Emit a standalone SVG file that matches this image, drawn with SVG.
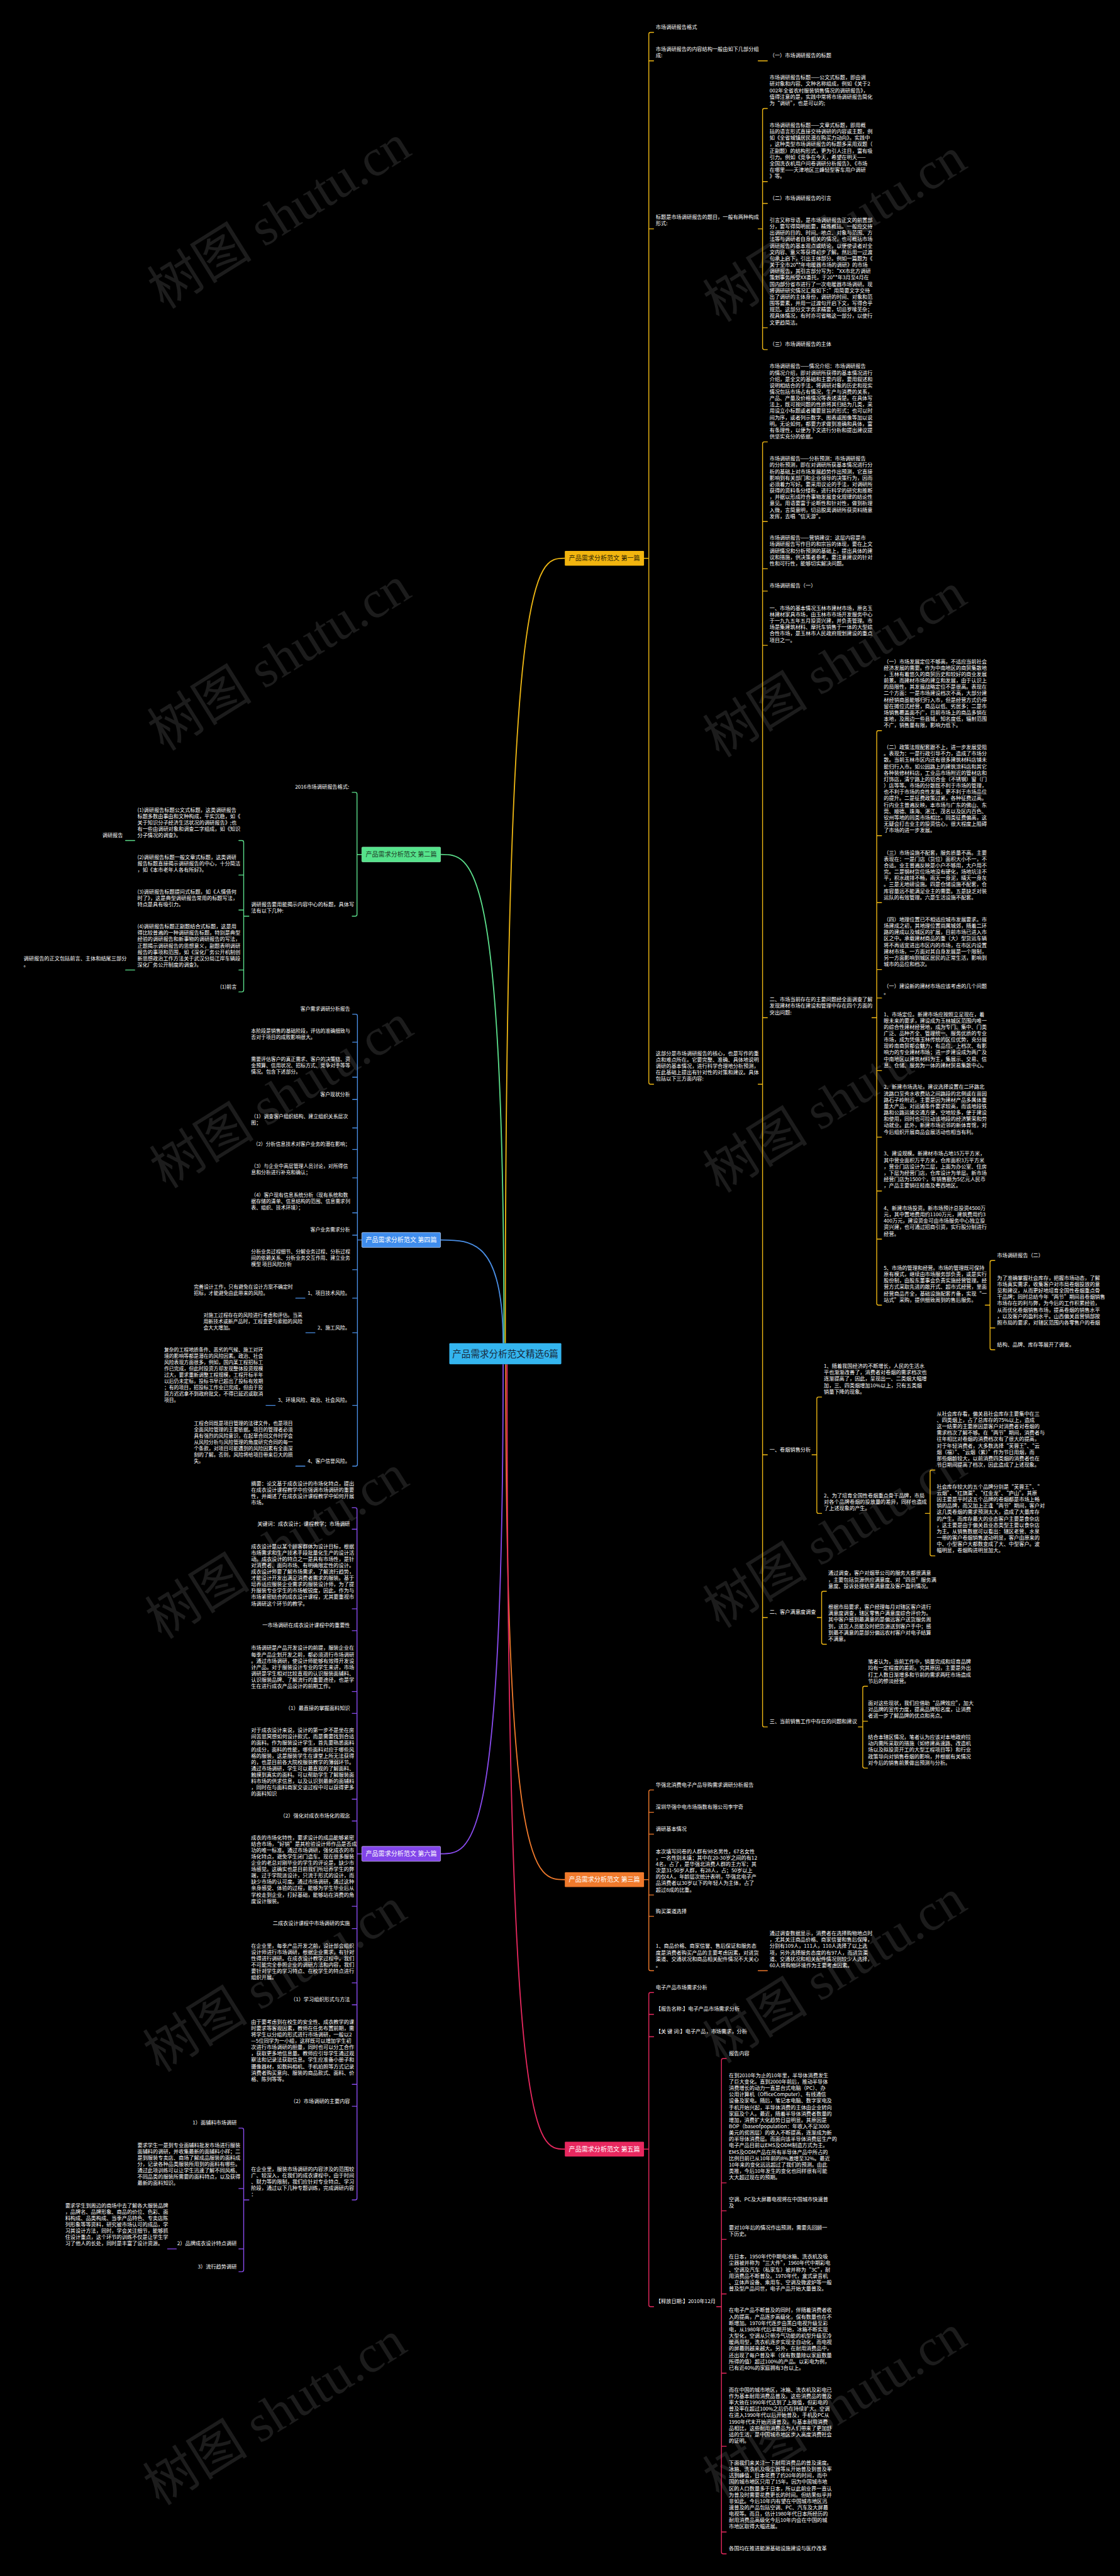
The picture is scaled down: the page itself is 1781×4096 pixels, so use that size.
<svg xmlns="http://www.w3.org/2000/svg" width="1781" height="4096" viewBox="0 0 1781 4096">
<style>
.t{font-family:"Noto Sans CJK SC","Noto Sans",sans-serif;font-size:11.8px;fill:#ffffff}
.t4{font-family:"Noto Sans CJK SC","Noto Sans",sans-serif;font-size:11.35px;fill:#ffffff}
.e{text-anchor:end}
.nt{font-family:"Noto Sans CJK SC","Noto Sans",sans-serif;font-size:14.5px;text-anchor:middle}
.wm{font-family:"Liberation Serif","Noto Sans CJK SC",serif;font-size:120px;fill:#1c1c1c;text-anchor:middle}
.l{fill:none;stroke-width:2;stroke-linecap:round}
.rc{fill:none;stroke-width:2.6}
.y{stroke:#efb814}.g{stroke:#5ce08c}.o{stroke:#f07a2c}.b{stroke:#4a8fe6}.p{stroke:#e8285f}.v{stroke:#8a4cf0}
</style>
<rect x="0" y="0" width="1781" height="4096" fill="#000000"/>
<g transform="scale(0.6957)">
<g id="watermarks">
<text class="wm" transform="translate(1930,560) rotate(-32)">树图 shutu.cn</text>
<text class="wm" transform="translate(1930,1555) rotate(-32)">树图 shutu.cn</text>
<text class="wm" transform="translate(1930,2550) rotate(-32)">树图 shutu.cn</text>
<text class="wm" transform="translate(1930,3545) rotate(-32)">树图 shutu.cn</text>
<text class="wm" transform="translate(1930,4540) rotate(-32)">树图 shutu.cn</text>
<text class="wm" transform="translate(1930,5535) rotate(-32)">树图 shutu.cn</text>
<text class="wm" transform="translate(660,530) rotate(-32)">树图 shutu.cn</text>
<text class="wm" transform="translate(660,1540) rotate(-32)">树图 shutu.cn</text>
<text class="wm" transform="translate(665,2540) rotate(-32)">树图 shutu.cn</text>
<text class="wm" transform="translate(655,3570) rotate(-32)">树图 shutu.cn</text>
<text class="wm" transform="translate(650,4560) rotate(-32)">树图 shutu.cn</text>
<text class="wm" transform="translate(650,5550) rotate(-32)">树图 shutu.cn</text>
</g>
<g id="connectors">
<path class="rc y" d="M1155,3070 C1155,1276 1223,1276 1291,1276"/>
<path class="rc g" d="M1152,3070 C1152,1953 1080,1953 1007,1953"/>
<path class="rc b" d="M1150,3070 C1150,2834 1078,2834 1007,2834"/>
<path class="rc o" d="M1156,3118 C1156,4296 1223,4296 1291,4296"/>
<path class="rc p" d="M1159,3118 C1159,4912 1225,4912 1291,4912"/>
<path class="rc v" d="M1150,3118 C1150,4237 1078,4237 1007,4237"/>
<path class="l y" d="M1472,1276H1483M1494,74H1487Q1483,74 1483,78V2474Q1483,2478 1487,2478H1494M1483,139H1494M1483,523H1494"/>
<path class="l y" d="M1733,139H1754"/>
<path class="l y" d="M1733,523H1743M1754,248H1747Q1743,248 1743,252V795Q1743,799 1747,799H1754M1743,415H1754M1743,465H1754M1743,749H1754"/>
<path class="l y" d="M1733,2478H1743M1754,1010H1747Q1743,1010 1743,1014V3943Q1743,3947 1747,3947H1754M1743,1192H1754M1743,1300H1754M1743,1351H1754M1743,1475H1754M1743,2326H1754M1743,3325H1754M1743,3697H1754"/>
<path class="l y" d="M1993,2326H2004M2015,1670H2008Q2004,1670 2004,1674V2979Q2004,2983 2008,2983H2015M2004,1910H2015M2004,2063H2015M2004,2216H2015M2004,2281H2015M2004,2447H2015M2004,2599H2015M2004,2722H2015M2004,2832H2015"/>
<path class="l y" d="M2252,2983H2263M2274,2881H2267Q2263,2881 2263,2885V3081Q2263,3085 2267,3085H2274M2263,3035H2274"/>
<path class="l y" d="M1856,3325H1867M1878,3193H1871Q1867,3193 1867,3197V3455Q1867,3459 1871,3459H1878"/>
<path class="l y" d="M2115,3459H2126M2137,3360H2130Q2126,3360 2126,3364V3552Q2126,3556 2130,3556H2137"/>
<path class="l y" d="M1868,3697H1878M1889,3637H1882Q1878,3637 1878,3641V3754Q1878,3758 1882,3758H1889"/>
<path class="l y" d="M1962,3947H1972M1983,3854H1976Q1972,3854 1972,3858V4037Q1972,4041 1976,4041H1983M1972,3934H1983"/>
<path class="l o" d="M1472,4296H1483M1494,4091H1487Q1483,4091 1483,4095V4500Q1483,4504 1487,4504H1494M1483,4142H1494M1483,4192H1494M1483,4331H1494M1483,4380H1494"/>
<path class="l o" d="M1733,4504H1754"/>
<path class="l p" d="M1472,4912H1483M1494,4554H1487Q1483,4554 1483,4558V5268Q1483,5272 1487,5272H1494M1483,4604H1494M1483,4655H1494"/>
<path class="l p" d="M1638,5272H1649M1660,4705H1653Q1649,4705 1649,4709V5833Q1649,5837 1653,5837H1660M1649,4989H1660M1649,5053H1660M1649,5118H1660M1649,5243H1660M1649,5424H1660M1649,5591H1660M1649,5787H1660"/>
<path class="l g" d="M827,1953H816M805,1811H812Q816,1811 816,1815V2090Q816,2094 812,2094H805"/>
<path class="l g" d="M569,2094H557M546,1921H553Q557,1921 557,1925V2263Q557,2267 553,2267H546M557,2000H546M557,2080H546M557,2217H546"/>
<path class="l g" d="M287,1921H308M287,2217H308"/>
<path class="l b" d="M827,2834H817M806,2318H813Q817,2318 817,2322V3347Q817,3351 813,3351H806M817,2382H806M817,2462H806M817,2513H806M817,2578H806M817,2627H806M817,2692H806M817,2772H806M817,2823H806M817,2902H806M817,2967H806M817,3046H806M817,3212H806"/>
<path class="l b" d="M676,2967H697M699,3046H720M608,3212H629M676,3351H697"/>
<path class="l v" d="M827,4237H816M805,3446H812Q816,3446 816,3450V5024Q816,5028 812,5028H805M816,3495H805M816,3677H805M816,3727H805M816,3866H805M816,3916H805M816,4112H805M816,4162H805M816,4357H805M816,4408H805M816,4532H805M816,4582H805M816,4764H805M816,4814H805"/>
<path class="l v" d="M569,5028H557M546,4864H553Q557,4864 557,4868V5188Q557,5192 553,5192H546M557,5002H546M557,5140H546"/>
<path class="l v" d="M383,5140H403"/>
</g>
<g id="root"><rect x="1027" y="3070" width="256" height="48" rx="2" fill="#34b5ef"/><text x="1155" y="3101.5" font-family="Noto Sans CJK SC,sans-serif" font-size="21" text-anchor="middle" fill="#17283a">产品需求分析范文精选6篇</text></g>
<g id="b1"><rect x="1291" y="1259" width="181" height="34" rx="2" fill="#f2b50f"/><text class="nt" x="1381.5" y="1281" fill="#2a2306">产品需求分析范文 第一篇</text></g>
<g id="b2"><rect x="827" y="1936" width="180" height="34" rx="2" fill="#55e38b" stroke="#8ff0b4" stroke-width="1"/><text class="nt" x="917" y="1958" fill="#1c3a26">产品需求分析范文 第二篇</text></g>
<g id="b3"><rect x="1291" y="4279" width="181" height="34" rx="2" fill="#f07a2c"/><text class="nt" x="1381.5" y="4301" fill="#ffffff">产品需求分析范文 第三篇</text></g>
<g id="b4"><rect x="827" y="2817" width="180" height="34" rx="2" fill="#3f8ded" stroke="#cfe2ff" stroke-width="1"/><text class="nt" x="917" y="2839" fill="#ffffff">产品需求分析范文 第四篇</text></g>
<g id="b5"><rect x="1291" y="4895" width="181" height="34" rx="2" fill="#e8285f"/><text class="nt" x="1381.5" y="4917" fill="#ffffff">产品需求分析范文 第五篇</text></g>
<g id="b6"><rect x="827" y="4220" width="180" height="34" rx="2" fill="#8245ea" stroke="#d6c4ff" stroke-width="1"/><text class="nt" x="917" y="4242" fill="#ffffff">产品需求分析范文 第六篇</text></g>

<g id="b1-1"><text class="t" x="1499" y="66">市场调研报告格式</text></g>
<g id="b1-2"><text class="t" x="1499" y="116.4">市场调研报告的内容结构一般由如下几部分组<tspan x="1499" dy="14.6">成:</tspan></text></g>
<g id="b1-2-1"><text class="t" x="1759" y="131">（一）市场调研报告的标题</text></g>
<g id="b1-3"><text class="t" x="1499" y="500.4">标题是市场调研报告的题目，一般有两种构成<tspan x="1499" dy="14.6">形式:</tspan></text></g>
<g id="b1-3-1"><text class="t" x="1759" y="181.6">市场调研报告标题——公文式标题，即由调<tspan x="1759" dy="14.6">研对象和内容、文种名称组成，例如《关于2</tspan><tspan x="1759" dy="14.6">002年全省农村服装销售情况的调研报告》，</tspan><tspan x="1759" dy="14.6">值得注意的是，实践中常将市场调研报告简化</tspan><tspan x="1759" dy="14.6">为“调研”，也是可以的;</tspan></text></g>
<g id="b1-3-2"><text class="t" x="1759" y="290.2">市场调研报告标题——文章式标题，即用概<tspan x="1759" dy="14.6">括的语言形式直接交待调研的内容或主题，例</tspan><tspan x="1759" dy="14.6">如《全省城镇居民潜在购买力动向》。实践中</tspan><tspan x="1759" dy="14.6">，这种类型市场调研报告的标题多采用双题（</tspan><tspan x="1759" dy="14.6">正副题）的结构形式，更为引人注目，富有吸</tspan><tspan x="1759" dy="14.6">引力。例如《竞争在今天，希望在明天——</tspan><tspan x="1759" dy="14.6">全国洗衣机用户问卷调研分析报告》、《市场</tspan><tspan x="1759" dy="14.6">在哪里——天津地区三峰轻型客车用户调研</tspan><tspan x="1759" dy="14.6">》等。</tspan></text></g>
<g id="b1-3-3"><text class="t" x="1759" y="457">（二）市场调研报告的引言</text></g>
<g id="b1-3-4"><text class="t" x="1759" y="507.4">引言又称导语，是市场调研报告正文的前置部<tspan x="1759" dy="14.6">分，要写得简明扼要，精炼概括。一般应交待</tspan><tspan x="1759" dy="14.6">出调研的目的、时间、地点、对象与范围、方</tspan><tspan x="1759" dy="14.6">法等与调研者自身相关的情况，也可概括市场</tspan><tspan x="1759" dy="14.6">调研报告的基本观点或结论，以便使读者对全</tspan><tspan x="1759" dy="14.6">文内容、意义等获得初步了解。然后用一过渡</tspan><tspan x="1759" dy="14.6">句承上启下，引出主体部分。例如一篇题为《</tspan><tspan x="1759" dy="14.6">关于全市20**年电暖器市场的调研》的市场</tspan><tspan x="1759" dy="14.6">调研报告，其引言部分写为：“XX市北方调研</tspan><tspan x="1759" dy="14.6">策划事务所受XX委托，于20**年3月至4月在</tspan><tspan x="1759" dy="14.6">国内部分省市进行了一次电暖器市场调研。现</tspan><tspan x="1759" dy="14.6">将调研研究情况汇报如下：”用简要文字交待</tspan><tspan x="1759" dy="14.6">出了调研的主体身份，调研的时间、对象和范</tspan><tspan x="1759" dy="14.6">围等要素，并用一过渡句开启下文，写得合乎</tspan><tspan x="1759" dy="14.6">规范。这部分文字务求精要，切忌罗嗦芜杂；</tspan><tspan x="1759" dy="14.6">视具体情况，有时亦可省略这一部分，以使行</tspan><tspan x="1759" dy="14.6">文更趋简洁。</tspan></text></g>
<g id="b1-3-5"><text class="t" x="1759" y="791">（三）市场调研报告的主体</text></g>
<g id="b1-4"><text class="t" x="1499" y="2411.6">这部分是市场调研报告的核心，也是写作的重<tspan x="1499" dy="14.6">点和难点所在。它要完整、准确、具体地说明</tspan><tspan x="1499" dy="14.6">调研的基本情况，进行科学合理地分析预测，</tspan><tspan x="1499" dy="14.6">在此基础上提出有针对性的对策和建议。具体</tspan><tspan x="1499" dy="14.6">包括以下三方面内容:</tspan></text></g>
<g id="b1-4-1"><text class="t" x="1759" y="841.4">市场调研报告——情况介绍：市场调研报告<tspan x="1759" dy="14.6">的情况介绍，即对调研所获得的基本情况进行</tspan><tspan x="1759" dy="14.6">介绍，是全文的基础和主要内容，要用叙述和</tspan><tspan x="1759" dy="14.6">说明相结合的手法，将调研对象的历史和现实</tspan><tspan x="1759" dy="14.6">情况包括市场占有情况，生产与消费的关系，</tspan><tspan x="1759" dy="14.6">产品、产量及价格情况等表述清楚。在具体写</tspan><tspan x="1759" dy="14.6">法上，既可按问题的性质将其归结为几类，采</tspan><tspan x="1759" dy="14.6">用设立小标题或者撮要显旨的形式；也可以时</tspan><tspan x="1759" dy="14.6">间为序，或者列示数字、图表或图像等加以说</tspan><tspan x="1759" dy="14.6">明。无论如何，都要力求做到准确和具体，富</tspan><tspan x="1759" dy="14.6">有条理性，以便为下文进行分析和提出建议提</tspan><tspan x="1759" dy="14.6">供坚实充分的依据。</tspan></text></g>
<g id="b1-4-2"><text class="t" x="1759" y="1052.6">市场调研报告——分析预测：市场调研报告<tspan x="1759" dy="14.6">的分析预测，即在对调研所获基本情况进行分</tspan><tspan x="1759" dy="14.6">析的基础上对市场发展趋势作出预测，它直接</tspan><tspan x="1759" dy="14.6">影响到有关部门和企业领导的决策行为，因而</tspan><tspan x="1759" dy="14.6">必须着力写好。要采用议论的手法，对调研所</tspan><tspan x="1759" dy="14.6">获得的资料条分缕析，进行科学的研究和推断</tspan><tspan x="1759" dy="14.6">，并据以形成符合事物发展变化规律的结论性</tspan><tspan x="1759" dy="14.6">意见。用语要富于论断性和针对性，做到析理</tspan><tspan x="1759" dy="14.6">入微，言简意明，切忌脱离调研所获资料随意</tspan><tspan x="1759" dy="14.6">发挥，去唱“信天游”。</tspan></text></g>
<g id="b1-4-3"><text class="t" x="1759" y="1233.6">市场调研报告——营销建议：这层内容是市<tspan x="1759" dy="14.6">场调研报告写作目的和宗旨的体现，要在上文</tspan><tspan x="1759" dy="14.6">调研情况和分析预测的基础上，提出具体的建</tspan><tspan x="1759" dy="14.6">议和措施，供决策者参考。要注意建议的针对</tspan><tspan x="1759" dy="14.6">性和可行性，能够切实解决问题。</tspan></text></g>
<g id="b1-4-4"><text class="t" x="1759" y="1343">市场调研报告（一）</text></g>
<g id="b1-4-5"><text class="t" x="1759" y="1394">一、市场的基本情况玉林市建材市场，原名玉<tspan x="1759" dy="14.6">林建材家具市场，由玉林市市场开发服务中心</tspan><tspan x="1759" dy="14.6">于一九九五年五月投资兴建，并负责管理。市</tspan><tspan x="1759" dy="14.6">场是集建筑材料、摩托车销售于一体的大型综</tspan><tspan x="1759" dy="14.6">合性市场，是玉林市人民政府规划建设的重点</tspan><tspan x="1759" dy="14.6">项目之一。</tspan></text></g>
<g id="b1-4-6"><text class="t" x="1759" y="2288.8">二、市场当前存在的主要问题经全面调查了解<tspan x="1759" dy="14.6">发现建材市场在建设和管理中存在四个方面的</tspan><tspan x="1759" dy="14.6">突出问题:</tspan></text></g>
<g id="b1-4-6-1"><text class="t" x="2020" y="1516">（一）市场发展定位不够高，不适应当前社会<tspan x="2020" dy="14.6">经济发展的需要。作为中南地区的商贸集散地</tspan><tspan x="2020" dy="14.6">，玉林有着悠久的商贸历史和较好的商业发展</tspan><tspan x="2020" dy="14.6">前景。而建材市场的建立和发展，由于认识上</tspan><tspan x="2020" dy="14.6">的局限性，其发展战略定位不是很高。表现在</tspan><tspan x="2020" dy="14.6">二个方面：一是市场建设档次不高，大部分建</tspan><tspan x="2020" dy="14.6">材经销商虽能够归行入市，但是经营方式仍停</tspan><tspan x="2020" dy="14.6">留在摊位式经营，商品以低、劣居多；二是市</tspan><tspan x="2020" dy="14.6">场销售覆盖面不广，目前市场上的商品多销在</tspan><tspan x="2020" dy="14.6">本地，及周边一些县城，知名度低，辐射范围</tspan><tspan x="2020" dy="14.6">不广，销售量有限，影响力低下。</tspan></text></g>
<g id="b1-4-6-2"><text class="t" x="2020" y="1712.2">（二）政策法规配套跟不上，进一步发展受阻<tspan x="2020" dy="14.6">。表现为：一是行政引导不力，造成了市场分</tspan><tspan x="2020" dy="14.6">散。当前玉林市区内还有很多建筑材料店铺未</tspan><tspan x="2020" dy="14.6">能归行入市。如公园路上的建筑涂料店和其它</tspan><tspan x="2020" dy="14.6">各种装修材料店，工业品市场附近的管材店和</tspan><tspan x="2020" dy="14.6">灯饰店，清宁路上的铝合金（不锈钢）窗（门</tspan><tspan x="2020" dy="14.6">）店等等。市场的分散既不利于市场的管理，</tspan><tspan x="2020" dy="14.6">也不利于市场的良性发展，更不利于市场品位</tspan><tspan x="2020" dy="14.6">的提升。二是征费政策过紧，各种征费过高。</tspan><tspan x="2020" dy="14.6">行内业主普遍反映，本市场与广东的佛山、东</tspan><tspan x="2020" dy="14.6">莞、顺德、珠海、湛江、茂名以及区内百色、</tspan><tspan x="2020" dy="14.6">钦州等地的同类市场相比，同类征费偏高，这</tspan><tspan x="2020" dy="14.6">无疑会打击业主的投资信心，很大程度上阻碍</tspan><tspan x="2020" dy="14.6">了市场的进一步发展。</tspan></text></g>
<g id="b1-4-6-3"><text class="t" x="2020" y="1952.8">（三）市场设施不配套，服务质量不高。主要<tspan x="2020" dy="14.6">表现在：一是门店（货位）面积大小不一，不</tspan><tspan x="2020" dy="14.6">合适。业主普遍反映是小户不够用，大户用不</tspan><tspan x="2020" dy="14.6">完。二是钢材货位场地没有硬化，场地坑洼不</tspan><tspan x="2020" dy="14.6">平，积水疏排不畅，雨天一身泥，晴天一身灰</tspan><tspan x="2020" dy="14.6">。三是无地磅设施。四是仓储设施不配套，仓</tspan><tspan x="2020" dy="14.6">库容量远不能满足业主的需要。五是缺乏对装</tspan><tspan x="2020" dy="14.6">运队的有效管理。六是生活设施不配套。</tspan></text></g>
<g id="b1-4-6-4"><text class="t" x="2020" y="2105.8">（四）地理位置已不相适应城市发展要求。市<tspan x="2020" dy="14.6">场建成之初，其地理位置尚属城郊，随着二环</tspan><tspan x="2020" dy="14.6">路的建成以及城区的扩展，目前市场已进入市</tspan><tspan x="2020" dy="14.6">区之中。承载建材商品的重（大）型货运车辆</tspan><tspan x="2020" dy="14.6">将不再适宜进出市区内的市场，在市区内设置</tspan><tspan x="2020" dy="14.6">建材市场，一方面对其自身发展是一个限制，</tspan><tspan x="2020" dy="14.6">另一方面影响到城区居民的正常生活，影响到</tspan><tspan x="2020" dy="14.6">城市的品位和档次。</tspan></text></g>
<g id="b1-4-6-5"><text class="t" x="2020" y="2258.4">（一）建设新的建材市场应该考虑的几个问题<tspan x="2020" dy="14.6">。</tspan></text></g>
<g id="b1-4-6-6"><text class="t" x="2020" y="2322.2">1、市场定位。新建市场应按照立足现在，着<tspan x="2020" dy="14.6">眼未来的要求，建设成为玉林城区范围内唯一</tspan><tspan x="2020" dy="14.6">的综合性建材经营地，成为专门、集中、门类</tspan><tspan x="2020" dy="14.6">广泛、品种齐全、管理统一、服务优质的专业</tspan><tspan x="2020" dy="14.6">市场，成为凭借玉林传统的区位优势，充分展</tspan><tspan x="2020" dy="14.6">现岭南商贸都会魅力，有品位、上档次、有影</tspan><tspan x="2020" dy="14.6">响力的专业建材市场；进一步建设成为两广及</tspan><tspan x="2020" dy="14.6">中南地区以建筑材料为主，集展示、交易、信</tspan><tspan x="2020" dy="14.6">息、仓储、服务为一体的建材贸易集散中心。</tspan></text></g>
<g id="b1-4-6-7"><text class="t" x="2020" y="2488.8">2、新建市场选址。建议选择设置在二环路北<tspan x="2020" dy="14.6">流路口至秀水收费站之间路段的北侧或在苗园</tspan><tspan x="2020" dy="14.6">路石子岭附近。主要是因为建材产品多属体重</tspan><tspan x="2020" dy="14.6">量大产品，对运输条件要求较高，而该地段铁</tspan><tspan x="2020" dy="14.6">路和公路运输交通方便，空地较多，便于建设</tspan><tspan x="2020" dy="14.6">和使用，同时也可拉动该地段的经济繁荣和劳</tspan><tspan x="2020" dy="14.6">动就业。此外，新建市场近邻的新体育馆，对</tspan><tspan x="2020" dy="14.6">今后组织开展商品会展活动也相当有利。</tspan></text></g>
<g id="b1-4-6-8"><text class="t" x="2020" y="2641">3、建设规模。新建材市场占地15万平方米，<tspan x="2020" dy="14.6">其中营业面积万平方米，仓库面积3万平方米</tspan><tspan x="2020" dy="14.6">，营业门店设计为二层，上面为办公室、住房</tspan><tspan x="2020" dy="14.6">，下层为经营门店，仓库设计为单层。新市场</tspan><tspan x="2020" dy="14.6">经营门店为1500个，年销售额为5亿元人民币</tspan><tspan x="2020" dy="14.6">，产品主要销往桂南及粤西地区。</tspan></text></g>
<g id="b1-4-6-9"><text class="t" x="2020" y="2765.6">4、新建市场投资。新市场预计总投资4500万<tspan x="2020" dy="14.6">元，其中置地费用约1100万元，建筑费用约3</tspan><tspan x="2020" dy="14.6">400万元，建设资金可由市场服务中心独立投</tspan><tspan x="2020" dy="14.6">资兴建，也可通过招商引资，实行股分制进行</tspan><tspan x="2020" dy="14.6">经营。</tspan></text></g>
<g id="b1-4-6-10"><text class="t" x="2020" y="2902">5、市场的管理和经营。市场的管理既可保持<tspan x="2020" dy="14.6">原有模式，继续由市场服务部负责，或是实行</tspan><tspan x="2020" dy="14.6">股份制，由股东董事会负责实施经营管理。经</tspan><tspan x="2020" dy="14.6">营方式采取先进的敞开式、超市式经营，里面</tspan><tspan x="2020" dy="14.6">经营商品齐全，基础设施配套齐备，实现“一</tspan><tspan x="2020" dy="14.6">站式”采购，提供细致周到的售后服务。</tspan></text></g>
<g id="b1-4-6-10-1"><text class="t" x="2279" y="2873">市场调研报告（二）</text></g>
<g id="b1-4-6-10-2"><text class="t" x="2279" y="2924.8">为了准确掌握社会库存，把握市场动态，了解<tspan x="2279" dy="14.6">市场真实需求，收集客户对市局卷烟投放的意</tspan><tspan x="2279" dy="14.6">见和建议，从而更好地培育全国性卷烟重点骨</tspan><tspan x="2279" dy="14.6">干品牌；同时总结今年“两节”期间县卷烟销售</tspan><tspan x="2279" dy="14.6">市场存在的利与弊，为今后的工作积累经验，</tspan><tspan x="2279" dy="14.6">从而优化卷烟销售市场，提高卷烟的销售水平</tspan><tspan x="2279" dy="14.6">，以及客户的盈利水平。山西偏关县营销部按</tspan><tspan x="2279" dy="14.6">照市局的要求，对辖区范围内各零售户的卷烟</tspan></text></g>
<g id="b1-4-6-10-3"><text class="t" x="2279" y="3077">结构、品牌、库存等展开了调查。</text></g>
<g id="b1-4-7"><text class="t" x="1759" y="3317">一、卷烟销售分析</text></g>
<g id="b1-4-7-1"><text class="t" x="1883" y="3126.6">1、随着我国经济的不断增长，人民的生活水<tspan x="1883" dy="14.6">平也渐渐改善了，消费者对卷烟的需求档次也</tspan><tspan x="1883" dy="14.6">逐渐提高了，因此，呈现出一、二类烟大幅增</tspan><tspan x="1883" dy="14.6">加，三、四类烟增加10%以上，只有五类烟</tspan><tspan x="1883" dy="14.6">销量下降的现象。</tspan></text></g>
<g id="b1-4-7-2"><text class="t" x="1883" y="3421.8">2、为了培育全国性卷烟重点骨干品牌，市局<tspan x="1883" dy="14.6">对各个品牌卷烟的投放量的差异，同样也造成</tspan><tspan x="1883" dy="14.6">了上述现象的产生。</tspan></text></g>
<g id="b1-4-7-2-1"><text class="t" x="2141" y="3235.2">从社会库存看，偏关县社会库存主要集中在三<tspan x="2141" dy="14.6">、四类烟上，占了总库存的75%以上，造成</tspan><tspan x="2141" dy="14.6">这一结果的主要原因是客户对消费者对卷烟的</tspan><tspan x="2141" dy="14.6">需求档次了解不够。在“两节”期间，消费者与</tspan><tspan x="2141" dy="14.6">往年相比对卷烟的消费档次有了很大的提高，</tspan><tspan x="2141" dy="14.6">对于年轻消费者，大多数选择“芙蓉王”、“云</tspan><tspan x="2141" dy="14.6">烟（福）”、“云烟（紫）”作为节日用烟，而</tspan><tspan x="2141" dy="14.6">那些烟龄较大，以前消费四类烟的消费者也在</tspan><tspan x="2141" dy="14.6">节日期间提高了档次，因此造成了上述现象。</tspan></text></g>
<g id="b1-4-7-2-2"><text class="t" x="2141" y="3402">社会库存较大的五个品牌分别是“芙蓉王”、“<tspan x="2141" dy="14.6">云烟”、“红旗渠”、“红金龙”、“庐山”。其原</tspan><tspan x="2141" dy="14.6">因主要是平时这五个品牌的卷烟都是市场上畅</tspan><tspan x="2141" dy="14.6">销的品牌，而又加上正逢“两节”期间，客户对</tspan><tspan x="2141" dy="14.6">这几类卷烟的需求预测太大，造成了大量库存</tspan><tspan x="2141" dy="14.6">的产生。而库存最大的业态客户主要是食杂店</tspan><tspan x="2141" dy="14.6">，这主要是由于偏关县业态类型主要以食杂店</tspan><tspan x="2141" dy="14.6">为主。从销售数据可以看出：辖区老营、水泉</tspan><tspan x="2141" dy="14.6">一带的客户卷烟销售波动明显，客户由原来的</tspan><tspan x="2141" dy="14.6">中、小型客户大都数变成了大、中型客户。波</tspan><tspan x="2141" dy="14.6">幅明显，卷烟购进明显加大。</tspan></text></g>
<g id="b1-4-8"><text class="t" x="1759" y="3689">二、客户满意度调查</text></g>
<g id="b1-4-8-1"><text class="t" x="1893" y="3599.8">通过调查，客户对烟草公司的服务大都很满意<tspan x="1893" dy="14.6">，主要包括货源供应满意度、对“四员”服务满</tspan><tspan x="1893" dy="14.6">意度、投诉处理结果满意度及客户盈利情况。</tspan></text></g>
<g id="b1-4-8-2"><text class="t" x="1893" y="3677">根据市局要求，客户经理每月对辖区客户进行<tspan x="1893" dy="14.6">满意度调查，辖区零售户满意度综合评价为。</tspan><tspan x="1893" dy="14.6">其中客户感到最满意的是偏远客户送货服务周</tspan><tspan x="1893" dy="14.6">到，送货人员能及时把货源送到客户手中；感</tspan><tspan x="1893" dy="14.6">到最不满意的是部分偏远农村客户对电子结算</tspan><tspan x="1893" dy="14.6">不满意。</tspan></text></g>
<g id="b1-4-9"><text class="t" x="1759" y="3939">三、当前销售工作中存在的问题和建议</text></g>
<g id="b1-4-9-1"><text class="t" x="1984" y="3802.2">笔者认为，当前工作中，销量完成和培育品牌<tspan x="1984" dy="14.6">均有一定程度的差距。究其原因，主要是外出</tspan><tspan x="1984" dy="14.6">打工人数日渐增多和节前的需求两旺市场造成</tspan><tspan x="1984" dy="14.6">节后的惨淡经营。</tspan></text></g>
<g id="b1-4-9-2"><text class="t" x="1984" y="3896.8">面对这些现状，我们应借助“品牌效应”，加大<tspan x="1984" dy="14.6">对品牌的宣传力度，提高品牌知名度，让消费</tspan><tspan x="1984" dy="14.6">者进一步了解品牌的优点和亮点。</tspan></text></g>
<g id="b1-4-9-3"><text class="t" x="1984" y="3974.6">结合本辖区情况，笔者认为应该对本地政府拉<tspan x="1984" dy="14.6">动内需所采取的措施（如修建高速路、改造机</tspan><tspan x="1984" dy="14.6">场以及拟投资开工的大型工程项目等）和行业</tspan><tspan x="1984" dy="14.6">政策导向对销售卷烟的影响，并根据有关情况</tspan><tspan x="1984" dy="14.6">对今后的销售前景做出预测与分析。</tspan></text></g>

<g id="b3-1"><text class="t" x="1499" y="4083">华强北消费电子产品导购需求调研分析报告</text></g>
<g id="b3-2"><text class="t" x="1499" y="4134">深圳华强中电市场指数有限公司李宇奇</text></g>
<g id="b3-3"><text class="t" x="1499" y="4184">调研基本情况</text></g>
<g id="b3-4"><text class="t" x="1499" y="4235.4">本次填写问卷的人群有98名男性，67名女性<tspan x="1499" dy="14.6">，一名性别未填；其中在20-30岁之间的有12</tspan><tspan x="1499" dy="14.6">4名，占了，是华强北消费人群的主力军；其</tspan><tspan x="1499" dy="14.6">次是31-50岁人群，有28人，占；50岁以上</tspan><tspan x="1499" dy="14.6">的仅4人。年龄层次统计表明，华强北电子产</tspan><tspan x="1499" dy="14.6">品消费者以30岁以下的年轻人为主体，占了</tspan><tspan x="1499" dy="14.6">超过8成的比重。</tspan></text></g>
<g id="b3-5"><text class="t" x="1499" y="4372">购买渠道选择</text></g>
<g id="b3-6"><text class="t" x="1499" y="4452.2">1、商品价格、商家信誉、售后保证和服务态<tspan x="1499" dy="14.6">度是消费者购买产品的主要考虑因素，对进货</tspan><tspan x="1499" dy="14.6">渠道、交通状况和商品相关配件情况不大关心</tspan><tspan x="1499" dy="14.6">。</tspan></text></g>
<g id="b3-6-1"><text class="t" x="1759" y="4423">通过调查数据显示，消费者在选择购物地点时<tspan x="1759" dy="14.6">，尤其关注商品价格、商家信誉和售后保障，</tspan><tspan x="1759" dy="14.6">分别有109人，111人，110人选择了以上选</tspan><tspan x="1759" dy="14.6">项，另外选择服务态度的有97人，而进货渠</tspan><tspan x="1759" dy="14.6">道、交通状况和相关配件情况则较少人选择，</tspan><tspan x="1759" dy="14.6">60人将购物环境作为主要考虑因素。</tspan></text></g>

<g id="b5-1"><text class="t" x="1499" y="4546">电子产品市场需求分析</text></g>
<g id="b5-2"><text class="t" x="1499" y="4596">【报告名称:】电子产品市场需求分析</text></g>
<g id="b5-3"><text class="t" x="1499" y="4647">【关 键 词:】电子产品，市场需求，分析</text></g>
<g id="b5-4"><text class="t" x="1499" y="5264">【释放日期:】2010年12月</text></g>
<g id="b5-4-1"><text class="t" x="1666" y="4697">报告内容</text></g>
<g id="b5-4-2"><text class="t" x="1666" y="4747.4">在到2010年为止的10年里，半导体消费发生<tspan x="1666" dy="14.6">了巨大变化。直到2000年前后，推动半导体</tspan><tspan x="1666" dy="14.6">消费增长的动力一直是台式电脑（PC）、办</tspan><tspan x="1666" dy="14.6">公用计算机（OfficeComputer）、有线通信</tspan><tspan x="1666" dy="14.6">设备及家电。随后，笔记本电脑、数字家电及</tspan><tspan x="1666" dy="14.6">手机开始兴起，半导体消费的主体由企业转向</tspan><tspan x="1666" dy="14.6">家庭及个人。最近，随着半导体消费者数量的</tspan><tspan x="1666" dy="14.6">增加，消费扩大化趋势日益明显。其原因是</tspan><tspan x="1666" dy="14.6">BOP（baseofpopulation：年收入不足3000</tspan><tspan x="1666" dy="14.6">美元的贫困层）的收入不断提高，逐渐成为新</tspan><tspan x="1666" dy="14.6">的半导体消费层。而面向该半导体消费层生产的</tspan><tspan x="1666" dy="14.6">电子产品目前以EMS及ODM制造方式为主。</tspan><tspan x="1666" dy="14.6">EMS及ODM产品在所有半导体产品中所占的</tspan><tspan x="1666" dy="14.6">比例目前已从10年前的8%激增至32%。最近</tspan><tspan x="1666" dy="14.6">10年来的变化远远超过了我们的预测。由此</tspan><tspan x="1666" dy="14.6">类推，今后10年发生的变化也同样很有可能</tspan><tspan x="1666" dy="14.6">大大超过现在的预期。</tspan></text></g>
<g id="b5-4-3"><text class="t" x="1666" y="5030.4">空调、PC及大屏幕电视将在中国城市快速普<tspan x="1666" dy="14.6">及</tspan></text></g>
<g id="b5-4-4"><text class="t" x="1666" y="5095.4">要对10年后的情况作出预测，需要先回顾一<tspan x="1666" dy="14.6">下历史。</tspan></text></g>
<g id="b5-4-5"><text class="t" x="1666" y="5162">在日本，1950年代中期电冰箱、洗衣机及吸<tspan x="1666" dy="14.6">尘器被并称为“三大件”，1960年代中期彩电</tspan><tspan x="1666" dy="14.6">、空调及汽车（私家车）被并称为“3C”，耐</tspan><tspan x="1666" dy="14.6">用消费品不断普及。1970年代，盒式录音机</tspan><tspan x="1666" dy="14.6">、立体声设备、乘用车、空调及微波炉等一般</tspan><tspan x="1666" dy="14.6">普及型产品问世，电子产品开始大量普及。</tspan></text></g>
<g id="b5-4-6"><text class="t" x="1666" y="5284.6">在电子产品不断普及的同时，伴随着消费者收<tspan x="1666" dy="14.6">入的提高，产品逐步高级化，保有数量也在不</tspan><tspan x="1666" dy="14.6">断增加。1970年代逐步由黑白电视升级至彩</tspan><tspan x="1666" dy="14.6">电，从1980年代后半期开始，冰箱不断实现</tspan><tspan x="1666" dy="14.6">大型化，空调从只带冷气功能的机型升级至冷</tspan><tspan x="1666" dy="14.6">暖两用型，洗衣机逐步实现全自动化，而电视</tspan><tspan x="1666" dy="14.6">的屏幕则越来越大。另外，在耐用消费品中，</tspan><tspan x="1666" dy="14.6">还出现了每户普及率（保有数量除以家庭数量</tspan><tspan x="1666" dy="14.6">所得的值）超过100%的产品。以彩电为例，</tspan><tspan x="1666" dy="14.6">已有近40%的家庭拥有3台以上。</tspan></text></g>
<g id="b5-4-7"><text class="t" x="1666" y="5466.2">而在中国的城市地区，冰箱、洗衣机及彩电已<tspan x="1666" dy="14.6">作为基本耐用消费品普及。这些消费品的普及</tspan><tspan x="1666" dy="14.6">率大致在1990年代达到了上限值，但彩电的</tspan><tspan x="1666" dy="14.6">普及率在超过100%之后仍在持续扩大。空调</tspan><tspan x="1666" dy="14.6">在进入1990年代以后开始普及，手机及PC从</tspan><tspan x="1666" dy="14.6">1990年代末开始迅速普及。与基本耐用消费</tspan><tspan x="1666" dy="14.6">品相比，这些耐用消费品为人们带来了更加舒</tspan><tspan x="1666" dy="14.6">适的生活，是中国城市地区步入高度消费社会</tspan><tspan x="1666" dy="14.6">的证明。</tspan></text></g>
<g id="b5-4-8"><text class="t" x="1666" y="5633">下面我们来关注一下耐用消费品的普及速度。<tspan x="1666" dy="14.6">冰箱、洗衣机及吸尘器等从开始普及到普及率</tspan><tspan x="1666" dy="14.6">达到峰值，日本花费了约20年的时间，而中</tspan><tspan x="1666" dy="14.6">国的城市地区只用了15年。因为中国城市地</tspan><tspan x="1666" dy="14.6">区的人口数量多于日本，所以此前业界一直认</tspan><tspan x="1666" dy="14.6">为普及时需要花费更长的时间。但结果似乎并</tspan><tspan x="1666" dy="14.6">非如此。今后10年内有望在中国城市地区迅</tspan><tspan x="1666" dy="14.6">速普及的产品包括空调、PC、汽车及大屏幕</tspan><tspan x="1666" dy="14.6">电视等。而且，估计1980年代日本所经历的</tspan><tspan x="1666" dy="14.6">耐用消费品高级化今后10年内会在中国的城</tspan><tspan x="1666" dy="14.6">市地区取得大幅进展。</tspan></text></g>
<g id="b5-4-9"><text class="t" x="1666" y="5829">各国均在推进能源基础设施建设与医疗改革</text></g>

<g id="b2-1"><text class="t e" x="798" y="1803">2016市场调研报告格式:</text></g>
<g id="b2-2"><text class="t" x="574" y="2071.4">调研报告要用能揭示内容中心的标题，具体写<tspan x="574" dy="14.5">法有以下几种:</tspan></text></g>
<g id="b2-2-1"><text class="t" x="314" y="1855">(1)调研报告标题公文式标题，这类调研报告<tspan x="314" dy="14.5">标题多数由事由和文种构成，平实沉稳，如《</tspan><tspan x="314" dy="14.5">关于知识分子经济生活状况的调研报告》;也</tspan><tspan x="314" dy="14.5">有一些由调研对象和调查二字组成，如《知识</tspan><tspan x="314" dy="14.5">分子情况的调查》。</tspan></text></g>
<g id="b2-2-1-1"><text class="t e" x="281" y="1913">调研报告</text></g>
<g id="b2-2-2"><text class="t" x="314" y="1963">(2)调研报告标题一般文章式标题，这类调研<tspan x="314" dy="14.5">报告标题直接揭示调研报告的中心，十分简洁</tspan><tspan x="314" dy="14.5">，如《本市老年人各有所好》。</tspan></text></g>
<g id="b2-2-3"><text class="t" x="314" y="2043">(3)调研报告标题提问式标题，如《人情债何<tspan x="314" dy="14.5">时了》，这是典型调研报告常用的标题写法，</tspan><tspan x="314" dy="14.5">特点是具有吸引力。</tspan></text></g>
<g id="b2-2-4"><text class="t" x="314" y="2122">(4)调研报告标题正副题结合式标题，这是用<tspan x="314" dy="14.5">得比较普遍的一种调研报告标题，特别是典型</tspan><tspan x="314" dy="14.5">经验的调研报告和新事物的调研报告的写法，</tspan><tspan x="314" dy="14.5">正题揭示调研报告的思想意义，副题表明调研</tspan><tspan x="314" dy="14.5">报告的事项和范围，如《深化厂务公开机制创</tspan><tspan x="314" dy="14.5">新思想政治工作方法关于武汉分局江岸车辆段</tspan><tspan x="314" dy="14.5">深化厂务公开制度的调查》。</tspan></text></g>
<g id="b2-2-4-1"><text class="t" x="54" y="2194.5">调研报告的正文包括前言、主体和结尾三部分<tspan x="54" dy="14.5">。</tspan></text></g>
<g id="b2-2-5"><text class="t e" x="541" y="2259">(1)前言</text></g>

<g id="b4-1"><text class="t4 e" x="800" y="2310">客户需求调研分析报告</text></g>
<g id="b4-2"><text class="t4" x="574" y="2359.6">本阶段是销售的基础阶段，评估的准确细致与<tspan x="574" dy="14.4">否对于项目的成败影响很大。</tspan></text></g>
<g id="b4-3"><text class="t4" x="574" y="2425.2">需要评估客户的真正需求、客户的决策链、资<tspan x="574" dy="14.4">金预算、信用状况、招标方式、竞争对手等等</tspan><tspan x="574" dy="14.4">情况。包含下述部分。</tspan></text></g>
<g id="b4-4"><text class="t4 e" x="800" y="2505">客户现状分析</text></g>
<g id="b4-5"><text class="t4" x="574" y="2555.6">（1）调查客户组织结构、建立组织关系层次<tspan x="574" dy="14.4">图；</tspan></text></g>
<g id="b4-6"><text class="t4 e" x="800" y="2619">（2）分析信息技术对客户业务的潜在影响；</text></g>
<g id="b4-7"><text class="t4" x="574" y="2669.6">（3）与企业中高层管理人员讨论，对所得信<tspan x="574" dy="14.4">息和分析进行补充和确认；</tspan></text></g>
<g id="b4-8"><text class="t4" x="574" y="2735.2">（4）客户现有信息系统分析（现有系统和数<tspan x="574" dy="14.4">据存储的清单、信息结构的范围、信息需求列</tspan><tspan x="574" dy="14.4">表、组织、技术环境）；</tspan></text></g>
<g id="b4-9"><text class="t4 e" x="800" y="2815">客户业务需求分析</text></g>
<g id="b4-10"><text class="t4" x="574" y="2865.2">分析业务过程细节、分解业务过程、分析过程<tspan x="574" dy="14.4">间的依赖关系、分析业务交互作用、建立业务</tspan><tspan x="574" dy="14.4">模型 项目风险分析</tspan></text></g>
<g id="b4-11"><text class="t4 e" x="800" y="2959">1、项目技术风险。</text></g>
<g id="b4-11-1"><text class="t4" x="443" y="2944.6">完善设计工作，只有避免在设计方案不确定时<tspan x="443" dy="14.4">招标，才能避免由此带来的风险。</tspan></text></g>
<g id="b4-12"><text class="t4 e" x="800" y="3038">2、施工风险。</text></g>
<g id="b4-12-1"><text class="t4" x="465" y="3009.2">对施工过程存在的风险进行考虑和评估。当采<tspan x="465" dy="14.4">用新技术或新产品时，工程变更与索赔的风险</tspan><tspan x="465" dy="14.4">会大大增加。</tspan></text></g>
<g id="b4-13"><text class="t4 e" x="800" y="3204">3、环境风险、政治、社会风险。</text></g>
<g id="b4-13-1"><text class="t4" x="375" y="3088.8">复杂的工程地质条件、恶劣的气候、施工对环<tspan x="375" dy="14.4">境的影响等都是潜在的风险因素。政治、社会</tspan><tspan x="375" dy="14.4">风险表现方面很多，例如，国内某工程招标工</tspan><tspan x="375" dy="14.4">作已完成，但此时投资方却发现整体投资规模</tspan><tspan x="375" dy="14.4">过大，要求重新调整工程规模，工程开标半年</tspan><tspan x="375" dy="14.4">以后仍未定标，投标书早已超出了投标有效期</tspan><tspan x="375" dy="14.4">；有的项目，招投标工作业已完成，但由于投</tspan><tspan x="375" dy="14.4">资方迟迟拿不到政府批文，不得已延迟或取消</tspan><tspan x="375" dy="14.4">项目。</tspan></text></g>
<g id="b4-14"><text class="t4 e" x="800" y="3343">4、客户信誉风险。</text></g>
<g id="b4-14-1"><text class="t4" x="443" y="3256.6">工程合同既是项目管理的法律文件，也是项目<tspan x="443" dy="14.4">全面风险管理的主要依据。项目的管理者必须</tspan><tspan x="443" dy="14.4">具有强烈的风险意识，在起草合同文件时学会</tspan><tspan x="443" dy="14.4">从风险分析与风险管理的角度研究合同的每一</tspan><tspan x="443" dy="14.4">个条款，对项目可能遇到的风险因素有全面深</tspan><tspan x="443" dy="14.4">刻的了解。否则，风险将给项目带来巨大的损</tspan><tspan x="443" dy="14.4">失。</tspan></text></g>

<g id="b6-1"><text class="t" x="574" y="3394.5">摘要：论文基于成衣设计的市场化特点，提出<tspan x="574" dy="14.5">在成衣设计课程教学中应强调市场调研的重要</tspan><tspan x="574" dy="14.5">性，并阐述了在成衣设计课程教学中如何开展</tspan><tspan x="574" dy="14.5">市场。</tspan></text></g>
<g id="b6-2"><text class="t e" x="800" y="3487">关键词：成衣设计；课程教学；市场调研</text></g>
<g id="b6-3"><text class="t" x="574" y="3538.5">成衣设计是以某个顾客群体为设计目标，根据<tspan x="574" dy="14.5">市场需求和生产技术手段批量化生产的设计活</tspan><tspan x="574" dy="14.5">动。成衣设计的特点之一是具有市场性，是针</tspan><tspan x="574" dy="14.5">对消费者、面向市场、有明确限定性的设计。</tspan><tspan x="574" dy="14.5">成衣设计师要了解市场需求，了解流行趋势，</tspan><tspan x="574" dy="14.5">才能设计开发出满足消费者需求的服装。基于</tspan><tspan x="574" dy="14.5">培养适应服装企业需求的服装设计师，为了提</tspan><tspan x="574" dy="14.5">升服装专业学生的市场敏锐度，因此，作为与</tspan><tspan x="574" dy="14.5">市场紧密结合的成衣设计课程，尤其要重视市</tspan><tspan x="574" dy="14.5">场调研这个环节的教学。</tspan></text></g>
<g id="b6-4"><text class="t e" x="800" y="3719">一市场调研在成衣设计课程中的重要性</text></g>
<g id="b6-5"><text class="t" x="574" y="3771">市场调研是产品开发设计的前提，服装企业在<tspan x="574" dy="14.5">每季产品企划开发之前，都必须进行市场调研</tspan><tspan x="574" dy="14.5">。通过市场调研，使设计师能够有效得开发设</tspan><tspan x="574" dy="14.5">计产品。对于服装设计专业的学生来讲，市场</tspan><tspan x="574" dy="14.5">调研是学生相对比较直观的认识服装面辅料、</tspan><tspan x="574" dy="14.5">认识服装品牌、了解流行的重要途径，也是学</tspan><tspan x="574" dy="14.5">生在进行成衣产品设计的前期工作。</tspan></text></g>
<g id="b6-6"><text class="t e" x="800" y="3908">（1）最直接的掌握面料知识</text></g>
<g id="b6-7"><text class="t" x="574" y="3959">对于成衣设计来说，设计的第一步不是坐在房<tspan x="574" dy="14.5">间苦思冥想如何设计款式，而是需要找到合适</tspan><tspan x="574" dy="14.5">的面料。作为服装设计学生，首先要熟悉面料</tspan><tspan x="574" dy="14.5">的成分，面料的性能，哪些面料对应于哪些风</tspan><tspan x="574" dy="14.5">格的服装，这是服装学生在课堂上所无法获得</tspan><tspan x="574" dy="14.5">的，也是目前各大院校服装教学的薄弱环节。</tspan><tspan x="574" dy="14.5">通过市场调研，学生可以最直观的了解面料、</tspan><tspan x="574" dy="14.5">触摸到真实的面料。可以帮助学生了解服装面</tspan><tspan x="574" dy="14.5">料市场的供求信息，以及认识到最新的面辅料</tspan><tspan x="574" dy="14.5">，同时在与面料商家交谈过程中可以获得更多</tspan><tspan x="574" dy="14.5">的面料知识</tspan></text></g>
<g id="b6-8"><text class="t e" x="800" y="4154">（2）强化对成衣市场化的观念</text></g>
<g id="b6-9"><text class="t" x="574" y="4204">成衣的市场化特性，要求设计的成品能够紧密<tspan x="574" dy="14.5">结合市场，“好销”是其检验设计师作品是否成</tspan><tspan x="574" dy="14.5">功的唯一标准。通过市场调研，强化成衣的市</tspan><tspan x="574" dy="14.5">场化特点，避免学生闭门造车。现在很多服装</tspan><tspan x="574" dy="14.5">企业的老总对刚毕业的学生的评论是，缺少市</tspan><tspan x="574" dy="14.5">场感觉。这确实也是目前我们所培养学生的弊</tspan><tspan x="574" dy="14.5">端，过于学院派设计，只流于形式的设计，而</tspan><tspan x="574" dy="14.5">缺少市场的认可度。通过市场调研，通过这种</tspan><tspan x="574" dy="14.5">亲身感受、体验的过程，能够为学生毕业后从</tspan><tspan x="574" dy="14.5">学校走到企业，打好基础，能够站在消费的角</tspan><tspan x="574" dy="14.5">度设计服装。</tspan></text></g>
<g id="b6-10"><text class="t e" x="800" y="4400">二成衣设计课程中市场调研的实施</text></g>
<g id="b6-11"><text class="t" x="574" y="4451.5">在企业里，每季产品开发之前，设计部会组织<tspan x="574" dy="14.5">设计师进行市场调研，根据企业需求，有针对</tspan><tspan x="574" dy="14.5">性得进行调研。在成衣设计教学过程中，我们</tspan><tspan x="574" dy="14.5">不可能完全参照企业的调研方法和内容，我们</tspan><tspan x="574" dy="14.5">要针对学生的学习特点、在校学生的特点进行</tspan><tspan x="574" dy="14.5">组织开展。</tspan></text></g>
<g id="b6-12"><text class="t e" x="800" y="4574">（1）学习组织形式与方法</text></g>
<g id="b6-13"><text class="t" x="574" y="4625.5">由于要考虑到在校生的安全性、成衣教学的课<tspan x="574" dy="14.5">时要求等客观因素，教师在任务布置前期，需</tspan><tspan x="574" dy="14.5">将学生以分组的形式进行市场调研，一般以2</tspan><tspan x="574" dy="14.5">—5位同学为一小组，这样既可以增加学生初</tspan><tspan x="574" dy="14.5">次进行市场调研的胆量，同时也可以分工合作</tspan><tspan x="574" dy="14.5">，获取更多地信息量。教师应引导学生通过观</tspan><tspan x="574" dy="14.5">察法和记录法获取信息。学生应准备小册子和</tspan><tspan x="574" dy="14.5">摄像器材，如数码相机、手机拍照等方式记录</tspan><tspan x="574" dy="14.5">消费者购买意向、服装的商品款式、面料、价</tspan><tspan x="574" dy="14.5">格、陈列等等。</tspan></text></g>
<g id="b6-14"><text class="t e" x="800" y="4806">（2）市场调研的主要内容</text></g>
<g id="b6-15"><text class="t" x="574" y="4962">在企业里，服装市场调研的内容涉及的范围较<tspan x="574" dy="14.5">广、较深入，在我们的成衣课程中，由于时间</tspan><tspan x="574" dy="14.5">、财力等的限制，我们应针对专业特点、学习</tspan><tspan x="574" dy="14.5">阶段，通过以下几种专题训练，完成调研内容</tspan><tspan x="574" dy="14.5">：</tspan></text></g>
<g id="b6-15-1"><text class="t e" x="541" y="4856">1）面辅料市场调研</text></g>
<g id="b6-15-2"><text class="t" x="314" y="4907">要求学生一是到专业面辅料批发市场进行服装<tspan x="314" dy="14.5">面辅料的调研，并收集最新的面辅料小样；二</tspan><tspan x="314" dy="14.5">是到服装专卖店、商场了解成品服装的面料成</tspan><tspan x="314" dy="14.5">分，记录各种品类服装所用到的面料有哪些。</tspan><tspan x="314" dy="14.5">通过此项训练可以让学生迅速了解不同风格、</tspan><tspan x="314" dy="14.5">不同品类的服装所需要的面料特点，以及获得</tspan><tspan x="314" dy="14.5">最新的面料知识。</tspan></text></g>
<g id="b6-15-3"><text class="t e" x="541" y="5132">2）品牌成衣设计特点调研</text></g>
<g id="b6-15-3-1"><text class="t" x="149" y="5045">要求学生到周边的商场中去了解各大服装品牌<tspan x="149" dy="14.5">，品牌名、品牌形象、商品的价位、色彩、面</tspan><tspan x="149" dy="14.5">料构成、品类构成、当季产品特色、专卖店陈</tspan><tspan x="149" dy="14.5">列形象等等资料，研究被市场认可的成品，学</tspan><tspan x="149" dy="14.5">习其设计方法，同时，学会关注细节，能够抓</tspan><tspan x="149" dy="14.5">住设计重点，这个环节的训练不仅是让学生学</tspan><tspan x="149" dy="14.5">习了他人的长处，同时是丰富了设计资源。</tspan></text></g>
<g id="b6-15-4"><text class="t e" x="541" y="5184">3）流行趋势调研</text></g>
</g>
</svg>
